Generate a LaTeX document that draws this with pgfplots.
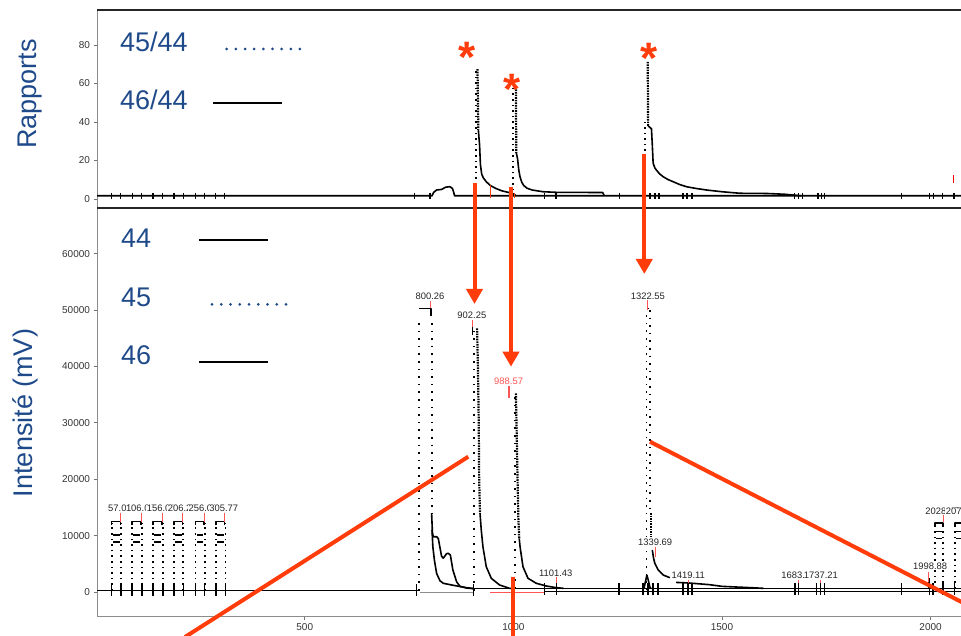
\documentclass[border=0pt]{standalone}
\usepackage{pgfplots}
\pgfplotsset{compat=1.18}
\usepackage{fontspec}
\setmainfont{Liberation Sans}
\usetikzlibrary{arrows.meta}
\definecolor{ann}{RGB}{255,60,10}
\definecolor{lblue}{HTML}{1F4A8A}
\definecolor{lred}{RGB}{255,85,85}
\tikzset{
 lab/.style={font=\fontsize{9.4}{9.4}\selectfont, fill=white, inner sep=0.4pt, text=black!85},
 rt/.style={lred, line width=1pt},
}
\pgfplotsset{
 base/.style={scale only axis, xmin=2, xmax=2100, width=875.3pt, unbounded coords=jump,
   axis line style={draw=black!45, line width=1pt}, tick align=outside, major tick length=3.5pt,
   tick style={black!55, line width=0.8pt}, ytick pos=left, xtick pos=left,
   ticklabel style={font=\fontsize{10}{10}\selectfont, text=black!80},
   /pgf/number format/assume math mode=true, /pgf/number format/set thousands separator={},
   scaled y ticks=false, anchor=south west},
 tr/.style={black, line width=1.6pt, line join=round},
 sp/.style={black, line width=1.8pt, dash pattern=on 1.6pt off 4pt},
 sp2/.style={black, line width=1.8pt, dash pattern=on 1.6pt off 6pt},
 dn/.style={black, line width=2.2pt, dash pattern=on 1.6pt off 1pt},
 bars/.style={only marks, mark=|, mark options={black, line width=1.4pt}},
}
\begin{document}
\begin{tikzpicture}
\useasboundingbox (0pt,0pt) rectangle (961pt,635pt);
% ---------------- top panel: ratios ----------------
\begin{axis}[base, at={(97pt,426.7pt)}, height=198.3pt, ymin=-4.8, ymax=98.2,
  xtick=\empty, ytick={0,20,40,60,80}]
\addplot[tr] coordinates {(2,1.7) (805,1.7) (809,3.5) (816,4.7) (828,5.0) (838,6.2) (848,6.4) (854,5.5) (857,3.5) (859,1.7) (2100,1.7)};
% peak 1
\addplot[sp] coordinates {(911,1.7) (911,67.5)};
\addplot[dn] coordinates {(914,67.5) (916,36)};
\addplot[tr] coordinates {(916,36) (919,28) (921,18) (924,13) (928,11) (935,9) (945,7) (958,5.5) (972,4.3) (991,3.3) (1002,2.5) (1006,1.7)};
% peak 2
\addplot[sp] coordinates {(999,1.7) (999,58.3)};
\addplot[dn] coordinates {(1006,58.3) (1007,24)};
\addplot[tr] coordinates {(1007,24) (1010,21) (1013,15) (1016,11.5) (1020,8.8) (1025,7.0) (1033,5.6) (1045,4.7) (1071,3.8) (1103,3.5) (1214,3.4) (1218,1.7)};
% peak 3
\addplot[sp] coordinates {(1315,1.7) (1315,40)};
\addplot[dn] coordinates {(1322,71.3) (1323,38)};
\addplot[tr] coordinates {(1323,38) (1331,36.5) (1333,28) (1335,18.7) (1339,16.2) (1343,15) (1350,13.2) (1359,11.6) (1370,10.2) (1383,9) (1398,7.6) (1415,6.4) (1438,5.5) (1463,4.7) (1500,3.8) (1543,3.0) (1607,2.9) (1650,2.5) (1690,1.7)};
% peak boundary bars
\addplot[bars, mark size=3pt] coordinates {(37,1.7) (59,1.7) (87,1.7) (109,1.7) (136,1.7) (159,1.7) (187,1.7) (209,1.7) (238,1.7) (259,1.7) (286,1.7) (308,1.7) (763,1.7) (800,1.7) (1075,1.7) (1102,1.7) (1255,1.7) (1327,1.7) (1339,1.7) (1349,1.7) (1407,1.7) (1416,1.7) (1428,1.7) (1674,1.7) (1684,1.7) (1693,1.7) (1730,1.7) (1738,1.7) (1746,1.7) (1930,1.7) (1998,1.7) (2007,1.7) (2028,1.7) (2056,1.7)};
\draw[ann, line width=1.6pt] (axis cs:945,0.5) -- (axis cs:945,7.3);
\draw[ann, line width=1.6pt] (axis cs:1003,0.3) -- (axis cs:1003,3.1);
\draw[red, line width=1.4pt] (axis cs:2055,8.3) -- (axis cs:2055,12.5);
\end{axis}
% ---------------- bottom panel: intensities ----------------
\begin{axis}[base, at={(97pt,19pt)}, height=407.7pt, ymin=-4255, ymax=68030,
  xtick={500,1000,1500,2000}, ytick={0,10000,20000,30000,40000,50000,60000}]
% baselines
\addplot[tr] coordinates {(2,250) (771,250) (771,nan) (903,600) (2100,600)};
\addplot[black!45, line width=1pt] coordinates {(776,-30) (903,-30)};
\addplot[black, line width=0.9pt] coordinates {(1075,60) (2100,60)};
\addplot[lred, line width=1.2pt] coordinates {(945,-40) (1075,-40)};
% reference gas pulses
\addplot[sp] coordinates {(37,250) (37,12300) (37,nan) (60,250) (60,12300) (60,nan)
 (86,250) (86,12300) (86,nan) (110,250) (110,12300) (110,nan)
 (136,250) (136,12300) (136,nan) (160,250) (160,12300) (160,nan)
 (187,250) (187,12300) (187,nan) (209,250) (209,12300) (209,nan)
 (238,250) (238,12300) (238,nan) (260,250) (260,12300) (260,nan)
 (287,250) (287,12300) (287,nan) (310,250) (310,12300) (310,nan)
 (2010,600) (2010,12000) (2010,nan) (2030,600) (2030,12000) (2030,nan)
 (2058,600) (2058,12000) (2058,nan) (2082,600) (2082,12000)};
\addplot[tr] coordinates {(37,11800) (37,12500) (58,12500) (58,11800) (58,nan)
 (86,11800) (86,12500) (108,12500) (108,11800) (108,nan)
 (136,11800) (136,12500) (158,12500) (158,11800) (158,nan)
 (187,11800) (187,12500) (207,12500) (207,11800) (207,nan)
 (238,11800) (238,12500) (258,12500) (258,11800) (258,nan)
 (287,11800) (287,12500) (308,12500) (308,11800) (308,nan)
 (2010,11600) (2010,12200) (2030,12200) (2030,11600) (2030,nan)
 (2058,11600) (2058,12200) (2082,12200)};
\addplot[tr, line width=1.4pt] coordinates {(40,10100) (56,10100) (56,nan) (40,8900) (56,8900) (56,nan)
 (89,10100) (106,10100) (106,nan) (89,8900) (106,8900) (106,nan)
 (139,10100) (156,10100) (156,nan) (139,8900) (156,8900) (156,nan)
 (190,10100) (205,10100) (205,nan) (190,8900) (205,8900) (205,nan)
 (241,10100) (256,10100) (256,nan) (241,8900) (256,8900) (256,nan)
 (290,10100) (306,10100) (306,nan) (290,8900) (306,8900) (306,nan)
 (2013,10700) (2027,10700) (2027,nan) (2013,9500) (2027,9500) (2027,nan)
 (2061,10700) (2080,10700) (2080,nan) (2061,9500) (2080,9500)};
% peak 800
\addplot[sp2] coordinates {(773,250) (773,47700)};
\addplot[tr] coordinates {(774,50300) (803,50300) (803,49000)};
\addplot[sp2] coordinates {(804,47700) (804,14000)};
\addplot[tr] coordinates {(804,14000) (806,10500) (808,9800) (816,9800) (820,9500) (828,6300) (832,6000) (840,6800) (844,6860) (849,6560) (855,3900) (864,1800) (872,1000) (888,700) (905,600)};
\addplot[tr] coordinates {(805,11000) (807,8000) (811,5500) (816,3300) (824,2000) (832,1540) (855,1200) (885,800) (905,600)};
% peak 902
\addplot[sp2] coordinates {(905,250) (905,46750)};
\addplot[dn] coordinates {(913,46750) (915,40000) (917,30000) (918,20000) (920,14000)};
\addplot[tr] coordinates {(920,14000) (923,11000) (927,8040) (935,4490) (947,2430) (967,1240) (991,650) (1003,600)};
% peak 988
\addplot[sp2] coordinates {(1003.5,600) (1003.5,35200)};
\addplot[dn] coordinates {(1006,35200) (1008,28000) (1010,20000) (1012,13000) (1014,9500)};
\addplot[tr] coordinates {(1014,9500) (1016,8040) (1023,4490) (1035,2430) (1055,1540) (1079,1060) (1100,800) (1120,650)};
% peak 1322
\addplot[sp2] coordinates {(1319,300) (1319,50000)};
\addplot[sp2] coordinates {(1327,50000) (1327,14000)};
\addplot[tr] coordinates {(1320,50300) (1325,50300)};
\addplot[dn] coordinates {(1330,14000) (1330,9700)};
\addplot[tr] coordinates {(1333,7450) (1336,6000) (1339,5090) (1347,3900) (1359,3010) (1375,2540)};
\addplot[tr] coordinates {(1313,600) (1317,2000) (1320,3000) (1323,2200) (1327,900) (1330,600)};
\addplot[tr] coordinates {(1390,1700) (1420,1600) (1470,1300) (1500,1000) (1560,800) (1600,650)};
\addplot[tr] coordinates {(1996,600) (1996,2500)};
% peak boundary bars
\addplot[bars, mark size=6pt] coordinates {(37,300) (60,300) (86,300) (110,300) (136,300) (160,300) (187,300) (209,300) (238,300) (260,300) (287,300) (310,300) (768,300) (905,300) (1075,500) (1103,500) (1253,500) (1311,500) (1323,500) (1335,500) (1347,500) (1407,500) (1419,500) (1428,500) (1675,500) (1683,500) (1726,500) (1736,500) (1746,500) (1930,500) (1998,500) (2006,500) (2030,500) (2058,500)};
% peak labels
\node[lab] at (axis cs:57.01,14840) {57.01};
\node[lab] at (axis cs:106.01,14840) {106.01};
\node[lab] at (axis cs:156.01,14840) {156.01};
\node[lab] at (axis cs:206.21,14840) {206.21};
\node[lab] at (axis cs:256.01,14840) {256.01};
\node[lab] at (axis cs:305.77,14840) {305.77};
\draw[rt] (axis cs:59,14060) -- (axis cs:59,12470);
\draw[rt] (axis cs:108.5,14060) -- (axis cs:108.5,12470);
\draw[rt] (axis cs:158.5,14060) -- (axis cs:158.5,12470);
\draw[rt] (axis cs:208,14060) -- (axis cs:208,12470);
\draw[rt] (axis cs:258.5,14060) -- (axis cs:258.5,12470);
\draw[rt] (axis cs:308.5,14060) -- (axis cs:308.5,12470);
\node[lab] at (axis cs:800.26,52360) {800.26};
\draw[rt] (axis cs:801,51600) -- (axis cs:801,50300);
\node[lab] at (axis cs:900.5,49110) {902.25};
\draw[rt] (axis cs:902.5,48230) -- (axis cs:902.5,46450);
\draw[black, line width=1.3pt] (axis cs:902,47000) -- (axis cs:902,45600);
\node[lab, text=lred] at (axis cs:988.57,37360) {988.57};
\draw[lred, line width=1.5pt] (axis cs:989,36520) -- (axis cs:989,34400);
\node[lab] at (axis cs:1101.43,3310) {1101.43};
\draw[rt] (axis cs:1103,2660) -- (axis cs:1103,350);
\node[lab] at (axis cs:1322.55,52480) {1322.55};
\draw[rt] (axis cs:1322.5,51770) -- (axis cs:1322.5,50000);
\node[lab] at (axis cs:1339.69,8870) {1339.69};
\draw[rt] (axis cs:1339.5,7980) -- (axis cs:1339.5,6200);
\node[lab] at (axis cs:1419.11,2900) {1419.11};
\draw[rt] (axis cs:1419,2130) -- (axis cs:1419,0);
\node[lab] at (axis cs:1683.14,3010) {1683.14};
\node[lab] at (axis cs:1737.21,3010) {1737.21};
\draw[rt] (axis cs:1682.5,2130) -- (axis cs:1682.5,300);
\draw[rt] (axis cs:1736,2130) -- (axis cs:1736,300);
\node[lab] at (axis cs:1998.88,4610) {1998.88};
\draw[rt] (axis cs:1996,3550) -- (axis cs:1996,1770);
\node[lab] at (axis cs:2028.45,14240) {2028.45};
\node[lab] at (axis cs:2077.32,14240) {2077.32};
\draw[rt] (axis cs:2030,13650) -- (axis cs:2030,12400);
\end{axis}
% ---------------- annotations ----------------
\begin{scope}[x=1pt,y=1pt]
\draw[black!85, line width=2pt] (97,625) -- (961,625);
\draw[black!85, line width=2pt] (97,426.7) -- (961,426.7);
\node[rotate=90, anchor=base, text=lblue, font=\fontsize{27}{27}\selectfont] at (36,540.8) {Rapports};
\node[rotate=90, anchor=base, text=lblue, font=\fontsize{27}{27}\selectfont] at (32.7,222) {Intensité (mV)};
\begin{scope}[every node/.style={anchor=base west, inner sep=0pt, text=lblue, font=\fontsize{27}{27}\selectfont}]
\node at (120,583.3) {45/44};
\node at (120,525) {46/44};
\node at (121,387) {44};
\node at (121,328) {45};
\node at (121,270) {46};
\end{scope}
\draw[lblue, line width=3pt, line cap=round, dash pattern=on 0pt off 9.16pt] (226.7,586) -- (300.1,586);
\draw[black, line width=1.8pt] (213,532.3) -- (281.7,532.3);
\draw[black, line width=1.8pt] (199,394.7) -- (267.7,394.7);
\draw[lblue, line width=3pt, line cap=round, dash pattern=on 0pt off 9.25pt] (212,330.7) -- (286.1,330.7);
\draw[black, line width=1.8pt] (199,272.7) -- (267.7,272.7);
% arrows
\draw[ann, line width=4pt, -{Triangle[width=16pt,length=15pt]}] (474.5,452) -- (474.5,331);
\draw[ann, line width=4pt, -{Triangle[width=16pt,length=15pt]}] (511,448.3) -- (511,268.3);
\draw[ann, line width=4pt, -{Triangle[width=16pt,length=15pt]}] (644.3,481) -- (644.3,361);
\draw[ann, line width=4pt] (513,58.3) -- (513,-5);
\draw[ann, line width=4pt] (185,-2) -- (468.3,178.3);
\draw[ann, line width=4pt] (650,193.3) -- (980,23.5);
\begin{scope}[every node/.style={anchor=base, inner sep=0pt, text=ann, font=\fontsize{44}{44}\bfseries}]
\node at (467.5,562.2) {*};
\node at (512.5,530.7) {*};
\node at (649,561.2) {*};
\end{scope}
\end{scope}
\end{tikzpicture}
\end{document}
